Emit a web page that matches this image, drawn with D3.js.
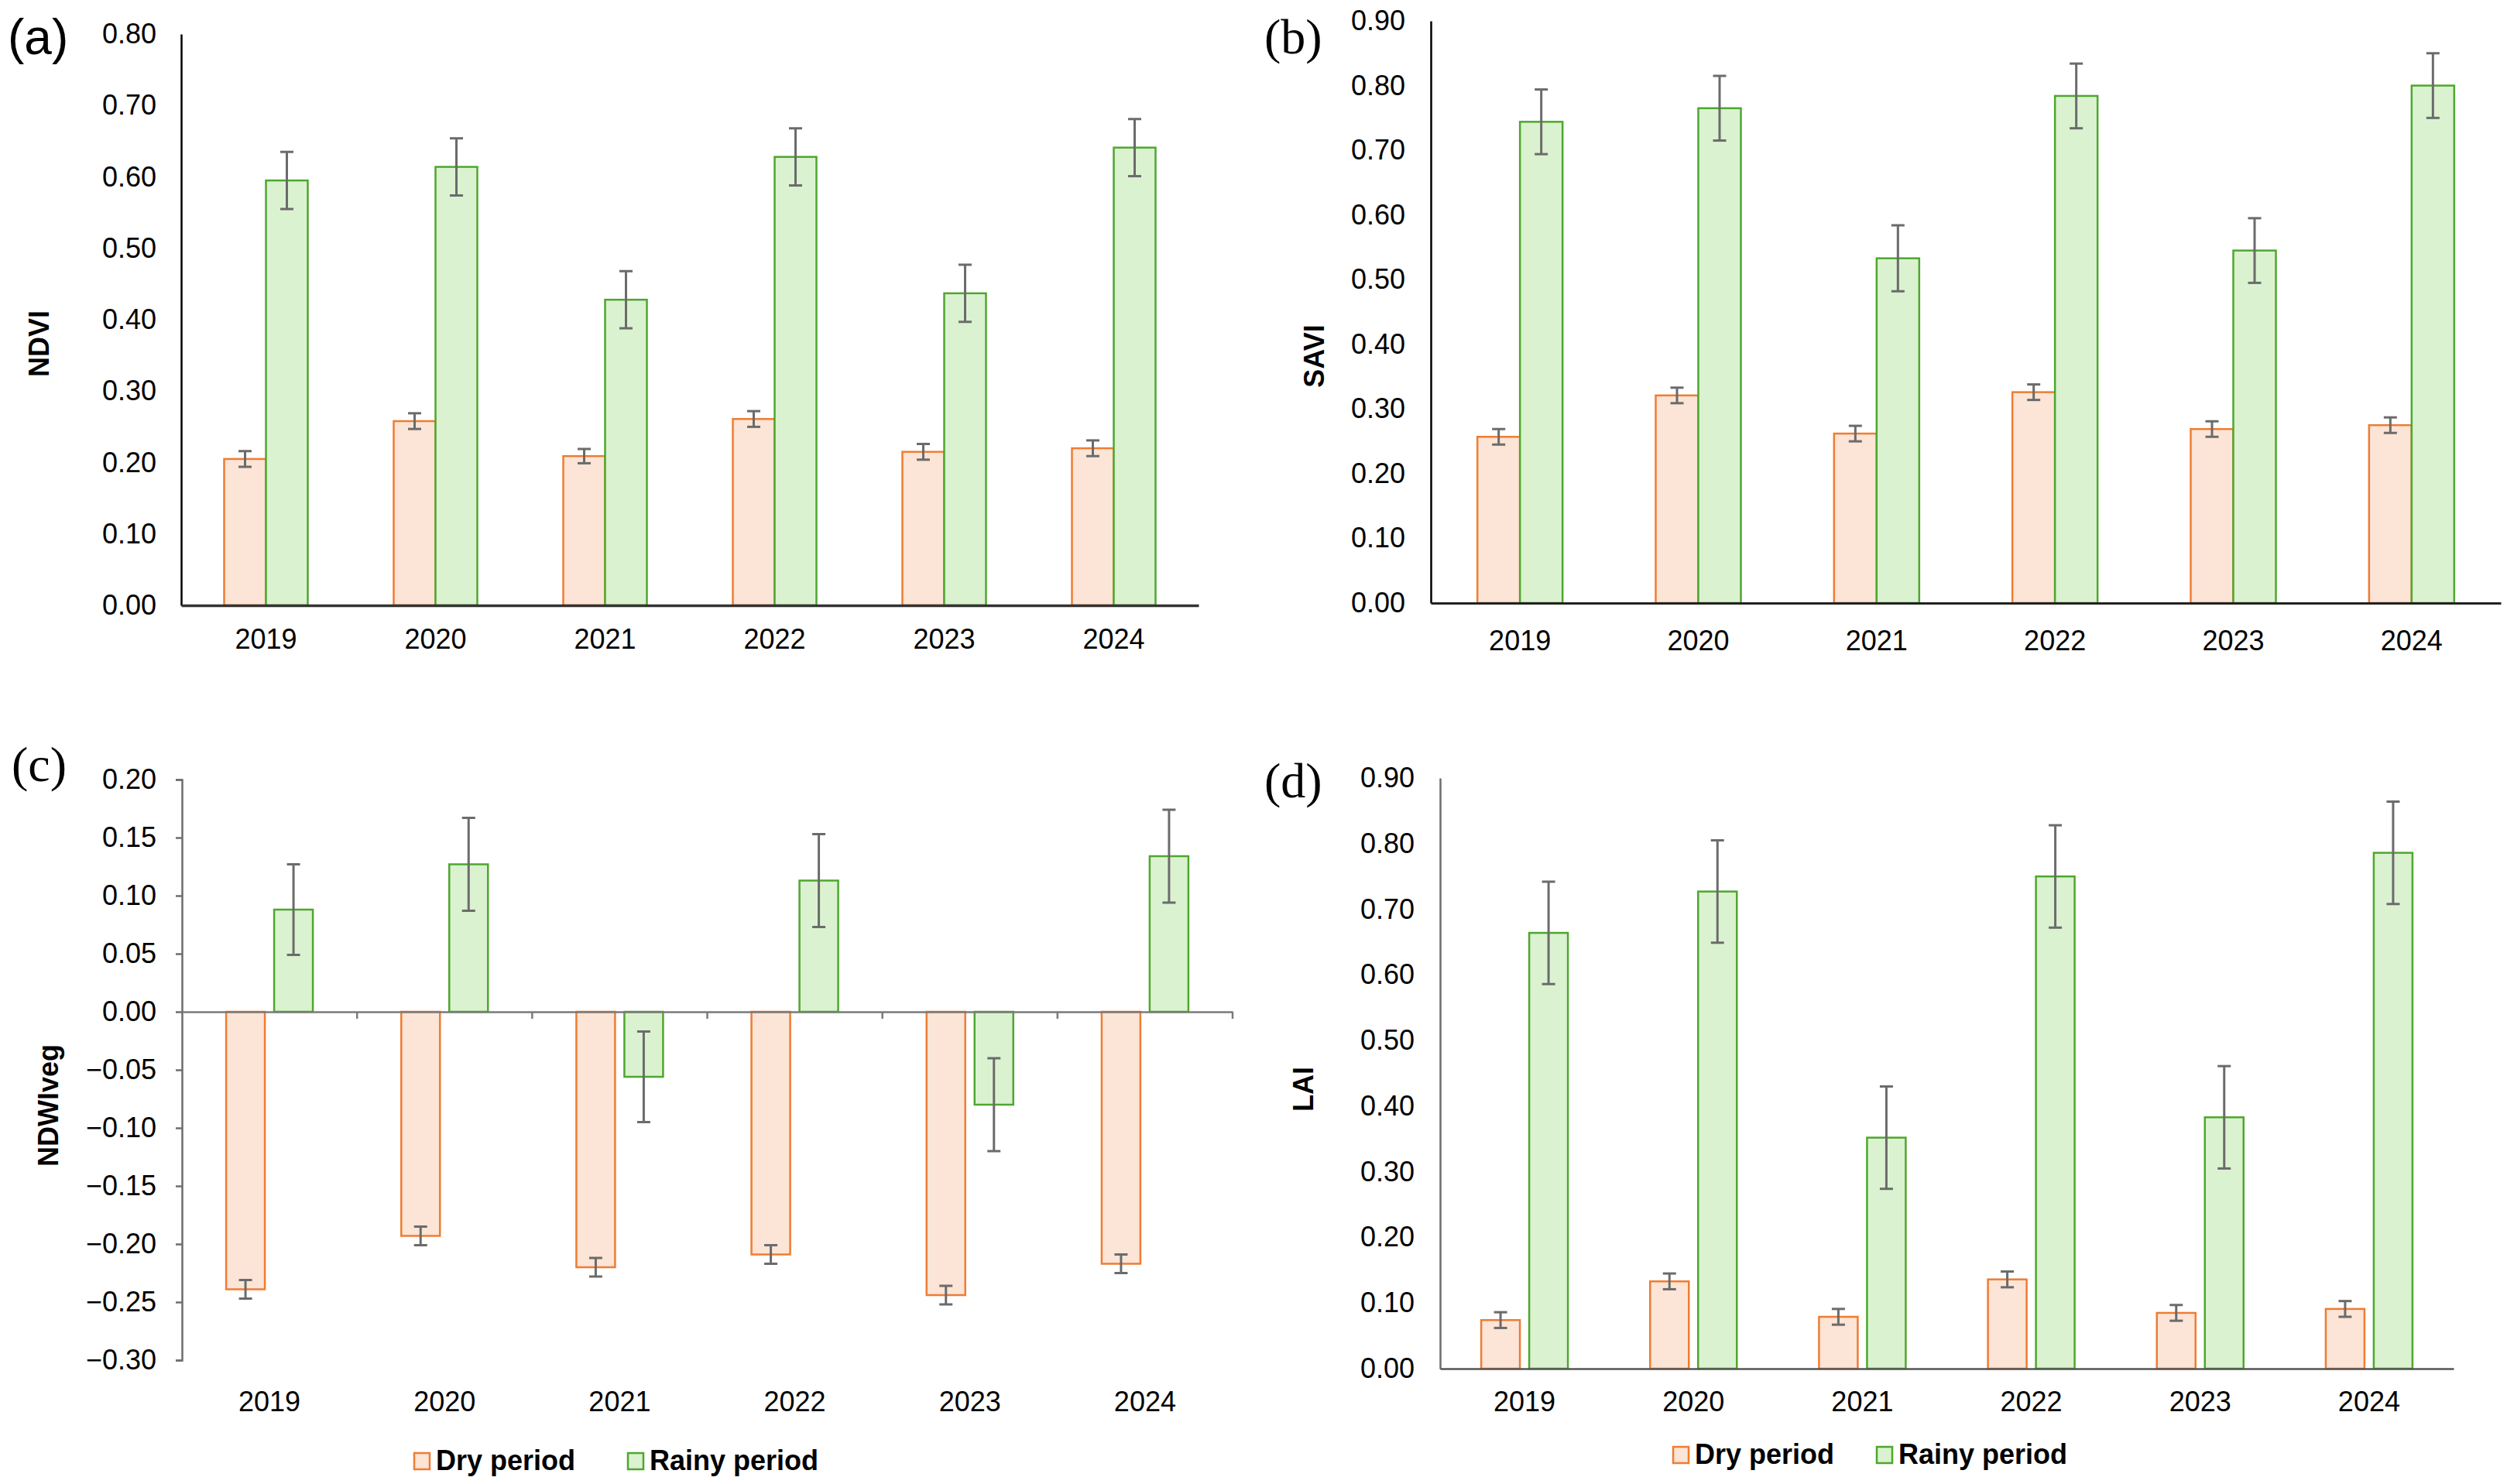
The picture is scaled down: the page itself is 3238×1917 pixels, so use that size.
<!DOCTYPE html>
<html>
<head>
<meta charset="utf-8">
<script src="https://cdn.jsdelivr.net/npm/d3@7"></script>
<style>
body { margin: 0; background: #fff; }
</style>
</head>
<body>
<div id="chart"></div>
<script>
var years = ["2019", "2020", "2021", "2022", "2023", "2024"];
var seriesNames = ["Dry period", "Rainy period"];

// (a) NDVI
var ndviDry = [0.205, 0.258, 0.209, 0.261, 0.215, 0.220];
var ndviDryErr = [0.011, 0.011, 0.010, 0.011, 0.011, 0.011];
var ndviRainy = [0.595, 0.614, 0.428, 0.628, 0.437, 0.641];
var ndviRainyErr = [0.040, 0.040, 0.040, 0.040, 0.040, 0.040];
var ndviTicks = [0, 0.1, 0.2, 0.3, 0.4, 0.5, 0.6, 0.7, 0.8];

// (b) SAVI
var saviDry = [0.257, 0.321, 0.262, 0.326, 0.269, 0.275];
var saviDryErr = [0.012, 0.012, 0.012, 0.012, 0.012, 0.012];
var saviRainy = [0.744, 0.765, 0.533, 0.784, 0.545, 0.800];
var saviRainyErr = [0.050, 0.050, 0.051, 0.050, 0.050, 0.050];
var saviTicks = [0, 0.1, 0.2, 0.3, 0.4, 0.5, 0.6, 0.7, 0.8, 0.9];

// (c) NDWIveg
var ndwiDry = [-0.239, -0.193, -0.220, -0.209, -0.244, -0.217];
var ndwiDryErr = [0.008, 0.008, 0.008, 0.008, 0.008, 0.008];
var ndwiRainy = [0.088, 0.127, -0.056, 0.113, -0.080, 0.134];
var ndwiRainyErr = [0.039, 0.040, 0.039, 0.040, 0.040, 0.040];
var ndwiTicks = [-0.3, -0.25, -0.2, -0.15, -0.1, -0.05, 0, 0.05, 0.1, 0.15, 0.2];

// (d) LAI
var laiDry = [0.074, 0.133, 0.079, 0.136, 0.085, 0.091];
var laiDryErr = [0.012, 0.012, 0.012, 0.012, 0.012, 0.012];
var laiRainy = [0.664, 0.727, 0.352, 0.750, 0.383, 0.786];
var laiRainyErr = [0.078, 0.078, 0.078, 0.078, 0.078, 0.078];
var laiTicks = [0, 0.1, 0.2, 0.3, 0.4, 0.5, 0.6, 0.7, 0.8, 0.9];

var fills = { "Dry period": "#fce4d6", "Rainy period": "#daf2d0" };
var strokes = { "Dry period": "#ee7d33", "Rainy period": "#4ea72e" };
var sans = "'Liberation Sans', Arial, sans-serif";
var serif = "'Liberation Serif', 'Times New Roman', serif";

var svg = d3.select("#chart")
    .append("svg")
    .attr("width", 3238)
    .attr("height", 1917)
    .style("background", "#fff");

function drawPanel(cfg) {
    var g = svg.append("g");

    var x = d3.scaleBand()
        .domain(years)
        .range([cfg.left, cfg.right])
        .padding(0);

    var y = d3.scaleLinear()
        .domain(cfg.domain)
        .range([cfg.bottom, cfg.top]);

    // two bars per year, centered in the band
    var half = x.bandwidth() / 2;
    var inner = d3.scaleBand()
        .domain(seriesNames)
        .range([half - cfg.barW - cfg.gap / 2, half + cfg.barW + cfg.gap / 2])
        .paddingInner(cfg.gap / (cfg.barW + cfg.gap));

    var rows = [];
    years.forEach(function (yr, i) {
        rows.push({ year: yr, series: "Dry period", v: cfg.dry[i], e: cfg.dryErr[i] });
        rows.push({ year: yr, series: "Rainy period", v: cfg.rainy[i], e: cfg.rainyErr[i] });
    });

    //Barras
    g.selectAll("rect.bar")
        .data(rows)
        .join("rect")
        .attr("class", "bar")
        .attr("x", function (d) { return x(d.year) + inner(d.series); })
        .attr("y", function (d) { return y(Math.max(0, d.v)); })
        .attr("width", inner.bandwidth())
        .attr("height", function (d) { return Math.abs(y(d.v) - y(0)); })
        .attr("fill", function (d) { return fills[d.series]; })
        .attr("stroke", function (d) { return strokes[d.series]; })
        .attr("stroke-width", 2.5);

    //Barras de error
    var err = g.selectAll("g.err")
        .data(rows)
        .join("g")
        .attr("class", "err")
        .attr("stroke", "#6b6b6b")
        .attr("stroke-width", 3);

    var cx = function (d) { return x(d.year) + inner(d.series) + inner.bandwidth() / 2; };

    err.append("line")
        .attr("x1", cx).attr("x2", cx)
        .attr("y1", function (d) { return y(d.v - d.e); })
        .attr("y2", function (d) { return y(d.v + d.e); });

    err.selectAll("line.cap")
        .data(function (d) { return [[d, d.v - d.e], [d, d.v + d.e]]; })
        .join("line")
        .attr("class", "cap")
        .attr("x1", function (p) { return cx(p[0]) - 8.5; })
        .attr("x2", function (p) { return cx(p[0]) + 8.5; })
        .attr("y1", function (p) { return y(p[1]); })
        .attr("y2", function (p) { return y(p[1]); });

    // eje y
    var yaxis = d3.axisLeft(y)
        .tickValues(cfg.ticks)
        .tickFormat(d3.format(".2f"))
        .tickSize(cfg.yTick)
        .tickSizeOuter(cfg.yTick)
        .tickPadding(cfg.yPad);

    var ya = g.append("g")
        .attr("transform", "translate(" + cfg.left + ",0)")
        .call(yaxis);
    ya.select(".domain").attr("stroke", cfg.yColor).attr("stroke-width", 2.5);
    ya.selectAll(".tick line").attr("stroke", cfg.yColor).attr("stroke-width", 2.5);
    ya.selectAll("text")
        .attr("fill", "#000")
        .style("font-family", sans)
        .style("font-size", "36px");

    // linea del cero
    var xa = g.append("g")
        .attr("transform", "translate(0," + y(0) + ")")
        .call(d3.axisBottom(x).tickSize(0).tickSizeOuter(0).tickFormat(""));
    xa.select(".domain").attr("stroke", cfg.xColor).attr("stroke-width", cfg.xWidth);

    if (cfg.xTicks) {
        g.selectAll("line.xtick")
            .data(years)
            .join("line")
            .attr("class", "xtick")
            .attr("x1", function (d) { return x(d) + x.bandwidth(); })
            .attr("x2", function (d) { return x(d) + x.bandwidth(); })
            .attr("y1", y(0))
            .attr("y2", y(0) + 9)
            .attr("stroke", cfg.xColor)
            .attr("stroke-width", 2.5);
    }

    // etiquetas de los años
    var xl = g.append("g")
        .attr("transform", "translate(0," + cfg.labelY + ")")
        .call(d3.axisBottom(x).tickSize(0).tickPadding(0));
    xl.select(".domain").remove();
    xl.selectAll("text")
        .attr("dy", "0.35em")
        .attr("fill", "#000")
        .style("font-family", sans)
        .style("font-size", "36px");

    // titulo del eje
    g.append("text")
        .attr("transform", "translate(" + cfg.titleX + "," + cfg.titleY + ") rotate(-90)")
        .attr("text-anchor", "middle")
        .attr("dominant-baseline", "central")
        .style("font-family", sans)
        .style("font-weight", "bold")
        .style("font-size", "36px")
        .text(cfg.title);

    // letra del panel
    g.append("text")
        .attr("x", cfg.tagX)
        .attr("y", cfg.tagY)
        .style("font-family", cfg.tagFont)
        .style("font-size", "64px")
        .text(cfg.tag);

    // leyenda
    if (cfg.legendX) {
        var lg = g.selectAll("g.legend")
            .data(seriesNames)
            .join("g")
            .attr("class", "legend")
            .attr("transform", function (d, i) {
                return "translate(" + cfg.legendX[i] + "," + cfg.legendY + ")";
            });
        lg.append("rect")
            .attr("width", 20)
            .attr("height", 21)
            .attr("fill", function (d) { return fills[d]; })
            .attr("stroke", function (d) { return strokes[d]; })
            .attr("stroke-width", 2.5);
        lg.append("text")
            .attr("x", 28)
            .attr("y", 22)
            .style("font-family", sans)
            .style("font-weight", "bold")
            .style("font-size", "36px")
            .text(function (d) { return d; });
    }
}

drawPanel({
    dry: ndviDry, dryErr: ndviDryErr, rainy: ndviRainy, rainyErr: ndviRainyErr,
    ticks: ndviTicks, domain: [0, 0.8],
    left: 234, right: 1548, top: 44, bottom: 782,
    barW: 54, gap: 0, yTick: 0, yPad: 32, yColor: "#000",
    xColor: "#333", xWidth: 3.5, xTicks: false, labelY: 825,
    title: "NDVI", titleX: 50, titleY: 444,
    tag: "(a)", tagX: 10, tagY: 70, tagFont: sans
});

drawPanel({
    dry: saviDry, dryErr: saviDryErr, rainy: saviRainy, rainyErr: saviRainyErr,
    ticks: saviTicks, domain: [0, 0.9],
    left: 1848, right: 3230, top: 27, bottom: 779,
    barW: 55, gap: 0, yTick: 0, yPad: 33, yColor: "#000",
    xColor: "#222", xWidth: 3, xTicks: false, labelY: 827,
    title: "SAVI", titleX: 1697, titleY: 460,
    tag: "(b)", tagX: 1633, tagY: 69, tagFont: serif
});

drawPanel({
    dry: ndwiDry, dryErr: ndwiDryErr, rainy: ndwiRainy, rainyErr: ndwiRainyErr,
    ticks: ndwiTicks, domain: [-0.3, 0.2],
    left: 235, right: 1592, top: 1007, bottom: 1757,
    barW: 50, gap: 12, yTick: 8, yPad: 25, yColor: "#6e6e6e",
    xColor: "#7a7a7a", xWidth: 2.5, xTicks: true, labelY: 1810,
    title: "NDWIveg", titleX: 62, titleY: 1428,
    tag: "(c)", tagX: 15, tagY: 1009, tagFont: serif,
    legendX: [535, 811], legendY: 1877
});

drawPanel({
    dry: laiDry, dryErr: laiDryErr, rainy: laiRainy, rainyErr: laiRainyErr,
    ticks: laiTicks, domain: [0, 0.9],
    left: 1860, right: 3169, top: 1005, bottom: 1768,
    barW: 50, gap: 12, yTick: 0, yPad: 33, yColor: "#6e6e6e",
    xColor: "#555", xWidth: 2.5, xTicks: false, labelY: 1810,
    title: "LAI", titleX: 1683, titleY: 1407,
    tag: "(d)", tagX: 1633, tagY: 1030, tagFont: serif,
    legendX: [2161, 2424], legendY: 1869
});
</script>
</body>
</html>
